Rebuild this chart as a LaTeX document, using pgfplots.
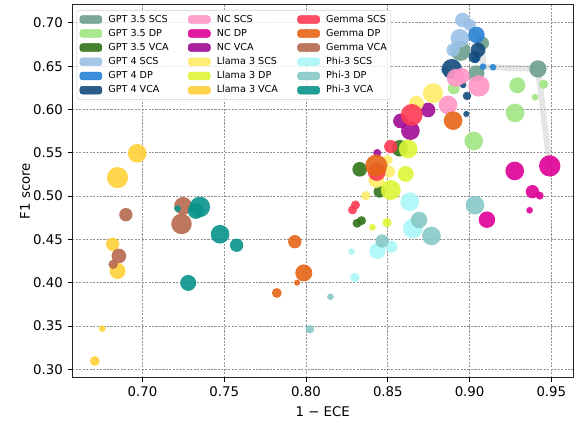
\documentclass[border=0pt]{standalone}
\usepackage{fontspec}
\setmainfont{DejaVu Sans}
\usepackage{pgfplots}
\pgfplotsset{compat=1.18}

\definecolor{cGAs}{RGB}{110,160,140}
\definecolor{cGAd}{RGB}{160,230,130}
\definecolor{cGAv}{RGB}{50,115,25}
\definecolor{cGBs}{RGB}{155,193,232}
\definecolor{cGBd}{RGB}{40,130,212}
\definecolor{cGBv}{RGB}{20,75,125}
\definecolor{cNs}{RGB}{255,150,198}
\definecolor{cNd}{RGB}{222,0,150}
\definecolor{cNv}{RGB}{160,12,148}
\definecolor{cLs}{RGB}{255,236,105}
\definecolor{cLd}{RGB}{222,245,55}
\definecolor{cLv}{RGB}{255,208,55}
\definecolor{cEs}{RGB}{255,58,85}
\definecolor{cEd}{RGB}{230,100,22}
\definecolor{cEv}{RGB}{182,104,78}
\definecolor{cPs}{RGB}{170,247,247}
\definecolor{cPd}{RGB}{135,201,198}
\definecolor{cPv}{RGB}{8,148,138}

\pgfplotsset{
  bub/.style={scatter, only marks, mark=*,
    scatter/use mapped color={draw=#1, fill=#1, draw opacity=0, fill opacity=0.9},
    visualization depends on={\thisrow{s}\as\ms},
    scatter/@pre marker code/.append style={/tikz/mark size=\ms},
    forget plot},
  patch/.style={legend image code/.code={\fill[#1, fill opacity=0.9] (0pt,-2.9pt) rectangle (16.5pt,2.9pt);}}
}

\begin{document}
\begin{tikzpicture}
\begin{axis}[
  scale only axis, width=375.75pt, height=279.75pt,
  xmin=0.657, xmax=0.9634, ymin=0.2903, ymax=0.721,
  xtick={0.70,0.75,0.80,0.85,0.90,0.95},
  ytick={0.30,0.35,0.40,0.45,0.50,0.55,0.60,0.65,0.70},
  /pgf/number format/assume math mode=true,
  xticklabel style={/pgf/number format/.cd, fixed, fixed zerofill, precision=2},
  yticklabel style={/pgf/number format/.cd, fixed, fixed zerofill, precision=2},
  tick label style={font=\fontsize{10}{12}\selectfont},
  label style={font=\fontsize{10}{12}\selectfont},
  xlabel={1 − ECE}, ylabel={F1 score},
  ylabel shift=-4.5pt,
  tick align=outside, tick pos=left, major tick length=3.5pt,
  every tick/.style={black, line width=0.6pt},
  axis line style={black!85, line width=0.8pt},
  grid=major, grid style={gray!85, line width=0.6pt, dash pattern=on 1.6pt off 1pt},
  legend columns=3,
  legend cell align=left,
  legend style={at={(0,1)}, anchor=north west, xshift=3.3pt, yshift=-4pt,
    draw=gray!35, fill=white, fill opacity=0.8, text opacity=1, rounded corners=2pt,
    font=\fontsize{7.2}{8.6}\selectfont, inner xsep=2pt, inner ysep=2.5pt,
    nodes={inner sep=1pt}, row sep=1.7pt,
    /tikz/every odd column/.append style={column sep=3.7pt},
    /tikz/every even column/.append style={column sep=13.5pt}},
]
% legend (row-major order to give column-major layout)
\addlegendimage{patch=cGAs}\addlegendentry{GPT 3.5 SCS}
\addlegendimage{patch=cNs}\addlegendentry{NC SCS}
\addlegendimage{patch=cEs}\addlegendentry{Gemma SCS}
\addlegendimage{patch=cGAd}\addlegendentry{GPT 3.5 DP}
\addlegendimage{patch=cNd}\addlegendentry{NC DP}
\addlegendimage{patch=cEd}\addlegendentry{Gemma DP}
\addlegendimage{patch=cGAv}\addlegendentry{GPT 3.5 VCA}
\addlegendimage{patch=cNv}\addlegendentry{NC VCA}
\addlegendimage{patch=cEv}\addlegendentry{Gemma VCA}
\addlegendimage{patch=cGBs}\addlegendentry{GPT 4 SCS}
\addlegendimage{patch=cLs}\addlegendentry{Llama 3 SCS}
\addlegendimage{patch=cPs}\addlegendentry{Phi-3 SCS}
\addlegendimage{patch=cGBd}\addlegendentry{GPT 4 DP}
\addlegendimage{patch=cLd}\addlegendentry{Llama 3 DP}
\addlegendimage{patch=cPd}\addlegendentry{Phi-3 DP}
\addlegendimage{patch=cGBv}\addlegendentry{GPT 4 VCA}
\addlegendimage{patch=cLv}\addlegendentry{Llama 3 VCA}
\addlegendimage{patch=cPv}\addlegendentry{Phi-3 VCA}

% GPT 3.5 SCS
\addplot[bub=cGAs] table[row sep=\\]{x y s\\ 0.9418 0.6468 6.5\\ 0.8944 0.6676 7.5\\ 0.9078 0.6764 5\\ 0.9042 0.6418 6\\};
% GPT 3.5 DP
\addplot[bub=cGAd] table[row sep=\\]{x y s\\ 0.9292 0.6279 6\\ 0.9453 0.6291 3.5\\ 0.9400 0.6141 2.5\\ 0.9278 0.5960 7\\ 0.9025 0.5636 7\\ 0.8903 0.6245 4.5\\};
% GPT 3.5 VCA
\addplot[bub=cGAv] table[row sep=\\]{x y s\\ 0.8328 0.5309 5.5\\ 0.8573 0.5552 6.2\\ 0.8450 0.5051 4.5\\ 0.8312 0.4686 3.4\\ 0.8339 0.4716 3.4\\};
% GPT 4 SCS
\addplot[bub=cGBs] table[row sep=\\]{x y s\\ 0.8956 0.7033 5.5\\ 0.9001 0.6976 4.5\\ 0.8940 0.6822 7\\ 0.8899 0.6687 5\\ 0.8848 0.6456 3\\};
% GPT 4 DP
\addplot[bub=cGBd] table[row sep=\\]{x y s\\ 0.9042 0.6860 6.2\\ 0.9082 0.6494 2.5\\ 0.9143 0.6487 2.5\\ 0.9037 0.6580 3\\};
% GPT 4 VCA
\addplot[bub=cGBv] table[row sep=\\]{x y s\\ 0.8891 0.6468 7.5\\ 0.9051 0.6687 5.5\\ 0.9031 0.6606 4.5\\ 0.8984 0.6156 3.2\\ 0.8980 0.5948 2.3\\ 0.8960 0.6283 2.5\\};
% NC SCS
\addplot[bub=cNs] table[row sep=\\]{x y s\\ 0.8868 0.6052 7\\ 0.8915 0.6364 6.7\\ 0.8952 0.6387 6\\ 0.9057 0.6271 8\\};
% NC DP
\addplot[bub=cNd] table[row sep=\\]{x y s\\ 0.9490 0.5348 8\\ 0.9276 0.5290 7\\ 0.9384 0.5051 5\\ 0.9429 0.5005 3\\ 0.9367 0.4836 2.5\\ 0.9106 0.4727 6.2\\};
% NC VCA
\addplot[bub=cNv] table[row sep=\\]{x y s\\ 0.8577 0.5867 5.5\\ 0.8638 0.5755 7\\ 0.8746 0.5994 5.5\\ 0.8435 0.5498 3\\};
% Llama 3 SCS
\addplot[bub=cLs] table[row sep=\\]{x y s\\ 0.8776 0.6187 7.5\\ 0.8675 0.6072 5.5\\ 0.8430 0.5186 6\\ 0.8365 0.5005 3.5\\ 0.8507 0.5282 4.5\\ 0.8499 0.5417 3.7\\};
% Llama 3 DP
\addplot[bub=cLd] table[row sep=\\]{x y s\\ 0.8624 0.5544 7\\ 0.8609 0.5255 6\\ 0.8518 0.5070 7.5\\ 0.8495 0.4693 3.5\\ 0.8406 0.4640 2.5\\};
% Llama 3 VCA
\addplot[bub=cLv] table[row sep=\\]{x y s\\ 0.6967 0.5494 7\\ 0.6847 0.5213 7.9\\ 0.6817 0.4443 5\\ 0.6847 0.4135 6\\ 0.6753 0.3469 2.5\\ 0.6708 0.3096 3.7\\};
% Gemma SCS
\addplot[bub=cEs] table[row sep=\\]{x y s\\ 0.8284 0.4840 3.4\\ 0.8302 0.4897 3.4\\ 0.8518 0.5571 5\\ 0.8646 0.5937 8.2\\ 0.8432 0.5278 6.7\\};
% Gemma DP
\addplot[bub=cEd] table[row sep=\\]{x y s\\ 0.8429 0.5353 8.2\\ 0.8899 0.5871 7\\ 0.7931 0.4473 5\\ 0.7986 0.4112 6.4\\ 0.7945 0.4000 2.3\\ 0.7821 0.3881 3.7\\};
% Gemma VCA
\addplot[bub=cEv] table[row sep=\\]{x y s\\ 0.6898 0.4785 5\\ 0.7248 0.4886 6.7\\ 0.7238 0.4678 7.7\\ 0.6855 0.4308 5.5\\ 0.6820 0.4212 3.5\\};
% Phi-3 SCS
\addplot[bub=cPs] table[row sep=\\]{x y s\\ 0.8278 0.4358 2.5\\ 0.8436 0.4366 6\\ 0.8522 0.4416 4.5\\ 0.8298 0.4058 3.5\\ 0.8634 0.4935 7\\ 0.8654 0.4628 7.5\\};
% Phi-3 DP
\addplot[bub=cPd] table[row sep=\\]{x y s\\ 0.8023 0.3462 3.2\\ 0.8149 0.3838 2.5\\ 0.8465 0.4481 5\\ 0.8767 0.4539 7\\ 0.8691 0.4724 6.2\\ 0.9033 0.4894 7\\};
% Phi-3 VCA
\addplot[bub=cPv] table[row sep=\\]{x y s\\ 0.7214 0.4855 2.5\\ 0.7350 0.4874 7.7\\ 0.7326 0.4828 6\\ 0.7474 0.4559 7\\ 0.7575 0.4432 5\\ 0.7279 0.3997 6\\};
% Pareto frontier
\addplot[forget plot, no marks, line width=4.5pt, color={rgb,1:red,0.75;green,0.75;blue,0.75}, opacity=0.4, line join=round]
  coordinates {(0.8956,0.7033) (0.9001,0.6976) (0.9042,0.6860) (0.9078,0.6764) (0.9082,0.6494) (0.9143,0.6487) (0.9418,0.6468) (0.9490,0.5348)};
\end{axis}
\pgfresetboundingbox
\useasboundingbox ([xshift=-54.2pt,yshift=-34.7pt]current axis.south west) rectangle ([xshift=1.3pt,yshift=3.5pt]current axis.north east);
\end{tikzpicture}
\end{document}
